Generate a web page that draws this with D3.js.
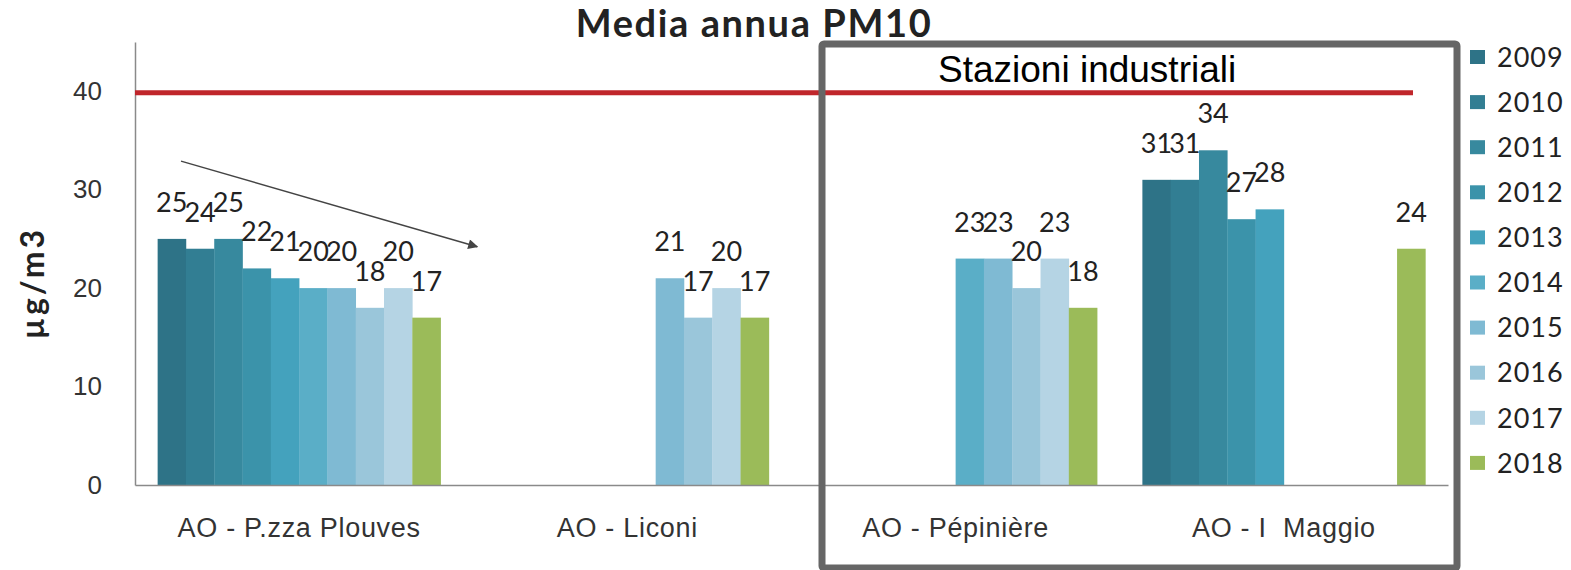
<!DOCTYPE html>
<html>
<head>
<meta charset="utf-8">
<script src="https://cdnjs.cloudflare.com/ajax/libs/d3/7.8.5/d3.min.js"></script>
<style>
  body { margin: 0; background: #fff; }
</style>
</head>
<body>
<div id="grafico"></div>
<script>
// dati
var stazioni = ["AO - P.zza Plouves", "AO - Liconi", "AO - Pépinière", "AO - I  Maggio"];
var anni = ["2009", "2010", "2011", "2012", "2013", "2014", "2015", "2016", "2017", "2018"];
var valoriPlouves = [25, 24, 25, 22, 21, 20, 20, 18, 20, 17];
var valoriLiconi = [null, null, null, null, null, null, 21, 17, 20, 17];
var valoriPepiniere = [null, null, null, null, null, 23, 23, 20, 23, 18];
var valoriMaggio = [31, 31, 34, 27, 28, null, null, null, null, 24];
var coloriAnni = ["#2e7387", "#327e93", "#37899e", "#3b93aa", "#44a2bd", "#5aaec7", "#7fbad3", "#9ac6da", "#b5d4e4", "#9bbb59"];
var tickY = [0, 10, 20, 30, 40];
var limite = 40;   // valore limite annuale
var freccia = [32.9, 24.2]; // tendenza Plouves (inizio, fine)

var valoriStazioni = [valoriPlouves, valoriLiconi, valoriPepiniere, valoriMaggio];

var larghezza = 1571;
var altezza = 570;
var sinistra = 135, destra = 1448, alto = 42, basso = 485;

var svg = d3.select("#grafico").append("svg")
    .attr("width", larghezza)
    .attr("height", altezza)
    .style("font-family", "Lato, 'Open Sans', sans-serif");

var x0 = d3.scaleBand().domain(stazioni).range([sinistra, destra]);
var x1 = d3.scaleBand().domain(anni).range([0, x0.bandwidth()]).paddingInner(0).paddingOuter(0.8);
var y = d3.scaleLinear().domain([0, 45]).range([basso, alto]);

/******************* barre *************************/
var righe = [];
stazioni.forEach(function(s, i){
    anni.forEach(function(a, j){
        if(valoriStazioni[i][j] != null)
            righe.push({stazione: s, anno: a, valore: valoriStazioni[i][j], colore: coloriAnni[j]});
    });
});

svg.append("g").selectAll("rect")
    .data(righe)
    .enter().append("rect")
    .attr("x", function(d){ return x0(d.stazione) + x1(d.anno); })
    .attr("y", function(d){ return y(d.valore); })
    .attr("width", x1.bandwidth() + 0.3)
    .attr("height", function(d){ return basso - y(d.valore); })
    .attr("fill", function(d){ return d.colore; });

svg.append("g").selectAll("text")
    .data(righe)
    .enter().append("text")
    .attr("x", function(d){ return x0(d.stazione) + x1(d.anno) + x1.bandwidth()/2; })
    .attr("y", function(d){ return y(d.valore) - 27; })
    .attr("text-anchor", "middle")
    .attr("font-size", 27)
    .attr("fill", "#222")
    .text(function(d){ return d.valore; });

/******************* assi *************************/
var assey = svg.append("g")
    .attr("transform", "translate(" + sinistra + ",0)")
    .call(d3.axisLeft(y).tickValues(tickY).tickSize(0).tickSizeOuter(0).tickPadding(33));
assey.select(".domain").attr("stroke", "#8a8a8a").attr("stroke-width", 1.5);
assey.selectAll("text").attr("font-size", 26).attr("fill", "#333").attr("font-family", null);

var assex = svg.append("g")
    .attr("transform", "translate(0," + basso + ")")
    .call(d3.axisBottom(x0).tickSize(0).tickSizeOuter(0).tickPadding(33));
assex.select(".domain").attr("stroke", "#8a8a8a").attr("stroke-width", 1.5);
assex.selectAll("text").attr("font-size", 27).attr("fill", "#333")
    .attr("font-family", null).attr("letter-spacing", 0.7).style("white-space", "pre");

svg.append("text")
    .attr("transform", "translate(44,283) rotate(-90)")
    .attr("text-anchor", "middle")
    .attr("font-size", 32)
    .attr("font-weight", "bold")
    .attr("letter-spacing", 3)
    .attr("fill", "#222")
    .text("µg/m3");

/******************* limite e freccia *************************/
svg.append("line")
    .attr("x1", sinistra)
    .attr("x2", destra - 35)
    .attr("y1", y(limite) + 1.5)
    .attr("y2", y(limite) + 1.5)
    .attr("stroke", "#c0262b")
    .attr("stroke-width", 5);

svg.append("defs").append("marker")
    .attr("id", "punta")
    .attr("viewBox", "0 0 10 10")
    .attr("refX", 9).attr("refY", 5)
    .attr("markerWidth", 12).attr("markerHeight", 10)
    .attr("markerUnits", "userSpaceOnUse")
    .attr("orient", "auto")
    .append("path")
    .attr("d", "M0,0L10,5L0,10z")
    .attr("fill", "#444");

svg.append("line")
    .attr("x1", x0(stazioni[0]) + 46)
    .attr("y1", y(freccia[0]))
    .attr("x2", x0(stazioni[1]) + 14)
    .attr("y2", y(freccia[1]))
    .attr("stroke", "#444")
    .attr("stroke-width", 1.5)
    .attr("marker-end", "url(#punta)");

/******************* titolo *************************/
svg.append("text")
    .attr("x", 754)
    .attr("y", 37)
    .attr("text-anchor", "middle")
    .attr("font-size", 38)
    .attr("font-weight", "bold")
    .attr("letter-spacing", 1.6)
    .attr("fill", "#222")
    .text("Media annua PM10");

/******************* riquadro industriali *************************/
svg.append("rect")
    .attr("x", 822)
    .attr("y", 44)
    .attr("width", 635)
    .attr("height", 524)
    .attr("rx", 2)
    .attr("fill", "none")
    .attr("stroke", "#666")
    .attr("stroke-width", 7);

svg.append("text")
    .attr("x", 938)
    .attr("y", 82)
    .attr("font-size", 37)
    .style("font-family", "'Liberation Sans', Arial, sans-serif")
    .attr("fill", "#000")
    .text("Stazioni industriali");

/******************* legenda *************************/
var legenda = svg.append("g").selectAll("g")
    .data(anni)
    .enter().append("g")
    .attr("transform", function(d, i){ return "translate(1470," + (57 + i*45.1) + ")"; });

legenda.append("rect")
    .attr("x", 0).attr("y", -7)
    .attr("width", 15).attr("height", 14)
    .attr("fill", function(d, i){ return coloriAnni[i]; });

legenda.append("text")
    .attr("x", 27)
    .attr("dy", "0.36em")
    .attr("font-size", 27)
    .attr("letter-spacing", 1)
    .attr("fill", "#222")
    .text(function(d){ return d; });
</script>
</body>
</html>
